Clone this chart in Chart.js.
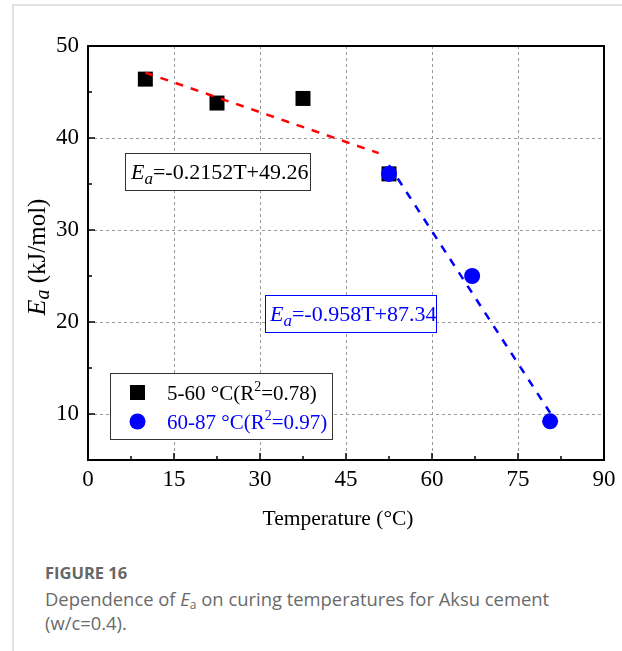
<!DOCTYPE html>
<html>
<head>
<meta charset="utf-8">
<script src="https://cdn.jsdelivr.net/npm/chart.js@4.4.1/dist/chart.umd.min.js"></script>
<style>
  html, body { margin: 0; padding: 0; background: #fff; }
  body { width: 622px; height: 651px; position: relative; overflow: hidden; }
  #frameTop { position: absolute; left: 12px; top: 4px; width: 610px; height: 2px; background: #e2e2e2; }
  #frameLeft { position: absolute; left: 12px; top: 4px; width: 2px; height: 647px; background: #e2e2e2; }
  #wrap { position: absolute; left: 0; top: 0; width: 622px; height: 545px; }
  #caption { position: absolute; left: 45px; top: 561px; width: 540px; font-family: "Open Sans", sans-serif; color: #6a6a6a; font-size: 18.4px; line-height: 24px; }
  #caption .t { font-weight: bold; font-size: 16.5px; color: #666; margin-bottom: 2px; }
  #caption sub { font-size: 12px; vertical-align: -3px; line-height: 0; }
</style>
</head>
<body>
<div id="frameTop"></div>
<div id="frameLeft"></div>
<div id="wrap"><canvas id="c" width="622" height="545"></canvas></div>
<div id="caption">
  <div class="t">FIGURE 16</div>
  <div>Dependence of <i>E</i><sub>a</sub> on curing temperatures for Aksu cement (w/c=0.4).</div>
</div>
<script>
// ---- data ----
const tempLow = [10, 22.5, 37.5, 52.5];
const eaLow = [46.4, 43.8, 44.3, 36.1];
const tempHigh = [52.5, 67.0, 80.6];
const eaHigh = [36.1, 25.0, 9.2];
const fitLowX = [10, 50.7];
const fitLowY = [47.11, 38.35];
const fitHighX = [52.5, 80.6];
const fitHighY = [37.05, 10.13];
const xTicks = [0, 15, 30, 45, 60, 75, 90];
const yTicks = [10, 20, 30, 40, 50];
const xMinor = [7.5, 22.5, 37.5, 52.5, 67.5, 82.5];
const yMinor = [5, 15, 25, 35, 45];
const xTitle = 'Temperature (°C)';
const legendLabels = [["5-60 °C(R", "2", "=0.78)"], ["60-87 °C(R", "2", "=0.97)"]];
const eqLow = ["E", "a", "=-0.2152T+49.26"];
const eqHigh = ["E", "a", "=-0.958T+87.34"];

const pts = (xs, ys) => xs.map((x, i) => ({x: x, y: ys[i]}));
const SERIF = '"Liberation Serif", "Times New Roman", serif';

function drawEq(ctx, parts, x, y, color) {
  ctx.fillStyle = color;
  ctx.textBaseline = 'alphabetic';
  ctx.textAlign = 'left';
  ctx.font = 'italic 22px ' + SERIF;
  ctx.fillText(parts[0], x, y);
  let cx = x + ctx.measureText(parts[0]).width;
  ctx.font = 'italic 17px ' + SERIF;
  ctx.fillText(parts[1], cx, y + 5);
  cx += ctx.measureText(parts[1]).width;
  ctx.font = '22px ' + SERIF;
  ctx.fillText(parts[2], cx, y);
}
function drawSup(ctx, parts, x, y, color) {
  ctx.fillStyle = color;
  ctx.textBaseline = 'alphabetic';
  ctx.textAlign = 'left';
  ctx.font = '21px ' + SERIF;
  ctx.fillText(parts[0], x, y);
  let cx = x + ctx.measureText(parts[0]).width;
  ctx.font = '14px ' + SERIF;
  ctx.fillText(parts[1], cx, y - 9);
  cx += ctx.measureText(parts[1]).width;
  ctx.font = '21px ' + SERIF;
  ctx.fillText(parts[2], cx, y);
}

const decor = {
  id: 'decor',
  beforeDatasetsDraw(chart) {
    const {ctx, chartArea: a, scales: {x, y}} = chart;
    ctx.save();
    ctx.strokeStyle = '#9a9a9a';
    ctx.lineWidth = 1;
    ctx.setLineDash([3, 3]);
    xTicks.slice(1, -1).forEach(v => {
      const px = Math.round(x.getPixelForValue(v)) + 0.5;
      ctx.beginPath(); ctx.moveTo(px, a.top); ctx.lineTo(px, a.bottom); ctx.stroke();
    });
    yTicks.slice(0, -1).forEach(v => {
      const py = Math.round(y.getPixelForValue(v)) + 0.5;
      ctx.beginPath(); ctx.moveTo(a.left, py); ctx.lineTo(a.right, py); ctx.stroke();
    });
    ctx.setLineDash([]);
    ctx.strokeStyle = '#000';
    ctx.lineWidth = 1.5;
    xTicks.forEach(v => {
      const px = x.getPixelForValue(v);
      ctx.beginPath(); ctx.moveTo(px, a.bottom); ctx.lineTo(px, a.bottom - 7); ctx.stroke();
    });
    xMinor.forEach(v => {
      const px = x.getPixelForValue(v);
      ctx.beginPath(); ctx.moveTo(px, a.bottom); ctx.lineTo(px, a.bottom - 4); ctx.stroke();
    });
    yTicks.forEach(v => {
      const py = y.getPixelForValue(v);
      ctx.beginPath(); ctx.moveTo(a.left, py); ctx.lineTo(a.left + 7, py); ctx.stroke();
    });
    yMinor.forEach(v => {
      const py = y.getPixelForValue(v);
      ctx.beginPath(); ctx.moveTo(a.left, py); ctx.lineTo(a.left + 4, py); ctx.stroke();
    });
    ctx.restore();
  },
  afterDatasetsDraw(chart) {
    const {ctx, chartArea: a} = chart;
    ctx.save();
    ctx.strokeStyle = '#000';
    ctx.lineWidth = 2;
    ctx.strokeRect(a.left, a.top, a.right - a.left, a.bottom - a.top);

    ctx.fillStyle = '#fff';
    ctx.lineWidth = 1;
    ctx.fillRect(125, 153, 185, 37);
    ctx.strokeStyle = '#333';
    ctx.strokeRect(125.5, 153.5, 185, 37);
    drawEq(ctx, eqLow, 131, 179, '#000');

    ctx.fillStyle = '#fff';
    ctx.fillRect(265, 295, 171, 37);
    ctx.strokeStyle = '#0000ff';
    ctx.strokeRect(265.5, 295.5, 171, 37);
    drawEq(ctx, eqHigh, 270, 321, '#0000ff');

    const ds = chart.data.datasets;
    ctx.fillStyle = '#fff';
    ctx.fillRect(110, 373, 222, 66);
    ctx.strokeStyle = '#333';
    ctx.strokeRect(110.5, 373.5, 222, 66);
    const black = ds.find(d => d.id === 'low');
    const blue = ds.find(d => d.id === 'high');
    ctx.fillStyle = black.backgroundColor;
    ctx.fillRect(130, 385, 15, 15);
    ctx.fillStyle = blue.backgroundColor;
    ctx.beginPath(); ctx.arc(137.5, 421.5, 8, 0, Math.PI * 2); ctx.fill();
    drawSup(ctx, legendLabels[0], 167, 400, '#000');
    drawSup(ctx, legendLabels[1], 167, 429, '#0000ff');

    // x title
    ctx.fillStyle = '#000';
    ctx.font = '21.5px ' + SERIF;
    ctx.textAlign = 'center';
    ctx.textBaseline = 'middle';
    ctx.fillText(xTitle, 338, 519);

    // y title
    ctx.translate(38, 257);
    ctx.rotate(-Math.PI / 2);
    ctx.textBaseline = 'middle';
    ctx.font = 'italic 26px ' + SERIF;
    const w1 = ctx.measureText('E').width;
    ctx.font = 'italic 20px ' + SERIF;
    const w2 = ctx.measureText('a').width;
    ctx.font = '25px ' + SERIF;
    const w3 = ctx.measureText(' (kJ/mol)').width;
    let sx = -(w1 + w2 + w3) / 2;
    ctx.textAlign = 'left';
    ctx.font = 'italic 26px ' + SERIF;
    ctx.fillText('E', sx, 0);
    ctx.font = 'italic 20px ' + SERIF;
    ctx.fillText('a', sx + w1, 6);
    ctx.font = '25px ' + SERIF;
    ctx.fillText(' (kJ/mol)', sx + w1 + w2, 0);
    ctx.restore();
  }
};

new Chart(document.getElementById('c'), {
  type: 'scatter',
  data: {
    datasets: [
      { id: 'high', label: '60-87 °C', data: pts(tempHigh, eaHigh), order: 0,
        pointStyle: 'circle', pointRadius: 8, pointHoverRadius: 8,
        backgroundColor: '#0000ff', borderColor: '#0000ff', borderWidth: 0 },
      { id: 'fitHigh', label: 'fit high', data: pts(fitHighX, fitHighY), order: 1,
        showLine: true, pointRadius: 0, borderColor: '#0000ff', borderWidth: 2.5, borderDash: [8, 8] },
      { id: 'fitLow', label: 'fit low', data: pts(fitLowX, fitLowY), order: 2,
        showLine: true, pointRadius: 0, borderColor: '#ff0000', borderWidth: 2.5, borderDash: [8, 8] },
      { id: 'low', label: '5-60 °C', data: pts(tempLow, eaLow), order: 3,
        pointStyle: 'rect', pointRadius: 10.6, pointHoverRadius: 10.6,
        backgroundColor: '#000000', borderColor: '#000000', borderWidth: 0 }
    ]
  },
  options: {
    responsive: false,
    animation: false,
    events: [],
    layout: { padding: { left: 0, top: 46, right: 18, bottom: 0 } },
    plugins: { legend: { display: false }, tooltip: { enabled: false } },
    scales: {
      x: {
        type: 'linear', min: 0, max: 90,
        afterBuildTicks: s => { s.ticks = xTicks.map(v => ({value: v})); },
        ticks: { font: { family: SERIF, size: 23 }, color: '#000', padding: 6, maxRotation: 0 },
        grid: { display: false, drawTicks: false },
        border: { display: false },
        title: { display: false },
        afterFit: s => { s.height = 85; }
      },
      y: {
        type: 'linear', min: 5, max: 50,
        afterBuildTicks: s => { s.ticks = yTicks.map(v => ({value: v})); },
        ticks: { font: { family: SERIF, size: 23 }, color: '#000', padding: 9 },
        grid: { display: false, drawTicks: false },
        border: { display: false },
        afterFit: s => { s.width = 88; }
      }
    }
  },
  plugins: [decor]
});
</script>
</body>
</html>
